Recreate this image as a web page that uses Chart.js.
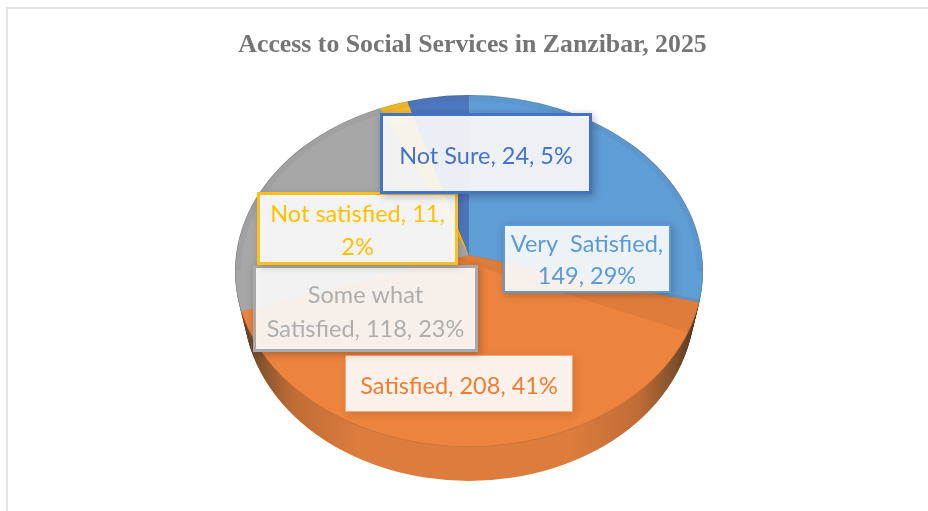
<!DOCTYPE html>
<html lang="en">

<head>
    <meta charset="UTF-8">
    <title>Access to Social Services in Zanzibar, 2025</title>
    <script src="https://cdn.jsdelivr.net/npm/chart.js"></script>
    <style>
        body {
            margin: 0;
            background: #fff;
        }

        #frame {
            position: absolute;
            left: 6px;
            top: 7px;
            width: 922px;
            height: 504px;
            border-top: 2px solid #e3e3e3;
            border-left: 2px solid #e3e3e3;
            box-sizing: border-box;
        }

        canvas {
            position: absolute;
            left: 0;
            top: 0;
        }
    </style>
</head>

<body>
    <div id="frame"></div>
    <canvas id="pie" width="928" height="511"></canvas>

    <script>
        const titleText = 'Access to Social Services in Zanzibar, 2025';
        const categories = ['Very  Satisfied', 'Satisfied', 'Some what Satisfied', 'Not satisfied', 'Not Sure'];
        const responses = [149, 208, 118, 11, 24];
        const percents = [29, 41, 23, 2, 5];

        const sliceColors = ['#5f9dd5', '#ec833e', '#a7a7a7', '#f7bc2a', '#4e78be'];
        const wallColors = ['#4f86b8', null, '#8c8c8c', '#bf9000', '#2f5597'];
        const labelColors = ['#5b9bd5', '#ed7d31', '#aeaeae', '#ffc000', '#4472c4'];

        // label boxes, in draw order
        const boxes = [
            { i: 0, x: 503, y: 224, w: 168, h: 69, border: 2, edge: '#5b9bd5', shadow: 0.25, lines: [`${categories[0]},`, `${responses[0]}, ${percents[0]}%`], ys: [243, 275] },
            { i: 1, x: 345, y: 355, w: 228, h: 57, border: 1, edge: '#f4a878', shadow: 0.12, lines: [`${categories[1]}, ${responses[1]}, ${percents[1]}%`], ys: [385] },
            { i: 2, x: 253, y: 265, w: 225, h: 87, border: 3, edge: '#a9a9a9', shadow: 0.3, lines: ['Some what', `Satisfied, ${responses[2]}, ${percents[2]}%`], ys: [294, 328] },
            { i: 3, x: 257, y: 192, w: 201, h: 73, border: 3, edge: '#fdbf1c', shadow: 0.2, lines: [`${categories[3]}, ${responses[3]},`, `${percents[3]}%`], ys: [213, 246] },
            { i: 4, x: 380, y: 113, w: 212, h: 81, border: 3, edge: '#4472c4', shadow: 0.3, lines: [`${categories[4]}, ${responses[4]}, ${percents[4]}%`], ys: [155] }
        ];

        // the pie is a tilted disc: slices fan out from an apex above the middle of the top face
        const face = { x: 469, y: 271, rx: 234, ry: 176 };
        const apex = { x: 469, y: 255, squash: 0.76 };
        const depth = 34;
        const wallTaper = 0.25;

        function ellipseClip(ctx, dy) {
            ctx.beginPath();
            ctx.ellipse(face.x, face.y + dy, face.rx - dy * wallTaper, face.ry, 0, 0, Math.PI * 2);
            ctx.clip();
        }

        function drawArcs(ctx, arcs, dy) {
            ctx.translate(apex.x, apex.y + dy);
            ctx.scale(1, apex.squash);
            ctx.translate(-arcs[0].x, -arcs[0].y);
            arcs.forEach(arc => arc.draw(ctx));
        }

        const tiltedPie = {
            id: 'tiltedPie',
            beforeDatasetsDraw(chart) {
                const ctx = chart.ctx;
                const arcs = chart.getDatasetMeta(0).data;
                const faceOptions = arcs.map(arc => arc.options);

                // side wall, darker towards the rim
                const wall = ctx.createLinearGradient(face.x - face.rx, 0, face.x + face.rx, 0);
                wall.addColorStop(0, '#4a3020');
                wall.addColorStop(0.05, '#7d4f2c');
                wall.addColorStop(0.13, '#c06c36');
                wall.addColorStop(0.28, '#dd7d3d');
                wall.addColorStop(0.72, '#dd7d3d');
                wall.addColorStop(0.87, '#c06c36');
                wall.addColorStop(0.95, '#7d4f2c');
                wall.addColorStop(1, '#4a3020');
                arcs.forEach((arc, i) => {
                    arc.options = { ...faceOptions[i], backgroundColor: wallColors[i] || wall };
                });
                for (let d = depth; d > 0; d--) {
                    ctx.save();
                    ellipseClip(ctx, d);
                    drawArcs(ctx, arcs, d);
                    ctx.restore();
                }
                arcs.forEach((arc, i) => { arc.options = faceOptions[i]; });

                // top face
                ctx.save();
                ellipseClip(ctx, 0);
                drawArcs(ctx, arcs, 0);
                ctx.restore();

                // darker band on the orange slice, under the blue edge
                ctx.save();
                ellipseClip(ctx, 0);
                ctx.beginPath();
                ctx.moveTo(apex.x, apex.y);
                ctx.lineTo(725, 304);
                ctx.lineTo(725, 344);
                ctx.lineTo(455, 259);
                ctx.closePath();
                ctx.fillStyle = 'rgba(130,70,30,0.11)';
                ctx.fill();
                ctx.restore();

                // soft rim on the upper half, thin line all round
                ctx.save();
                ellipseClip(ctx, 0);
                ctx.beginPath();
                ctx.ellipse(face.x, face.y, face.rx, face.ry, 0, Math.PI, Math.PI * 2);
                ctx.lineWidth = 12;
                ctx.strokeStyle = 'rgba(40,60,90,0.05)';
                ctx.stroke();
                ctx.beginPath();
                ctx.ellipse(face.x, face.y, face.rx, face.ry, 0, 0, Math.PI * 2);
                ctx.lineWidth = 1.5;
                ctx.strokeStyle = 'rgba(90,60,40,0.25)';
                ctx.stroke();
                ctx.restore();
                return false;
            },
            afterDraw(chart) {
                const ctx = chart.ctx;
                boxes.forEach(b => {
                    ctx.save();
                    ctx.shadowColor = `rgba(0,0,0,${b.shadow})`;
                    ctx.shadowBlur = 8;
                    ctx.shadowOffsetX = 2;
                    ctx.shadowOffsetY = 2;
                    ctx.fillStyle = 'rgba(255,255,255,0.9)';
                    ctx.fillRect(b.x, b.y, b.w, b.h);
                    ctx.restore();

                    ctx.strokeStyle = b.edge;
                    ctx.lineWidth = b.border;
                    ctx.strokeRect(b.x + b.border / 2, b.y + b.border / 2, b.w - b.border, b.h - b.border);

                    ctx.fillStyle = labelColors[b.i];
                    ctx.font = '23.5px Lato';
                    ctx.textAlign = 'center';
                    ctx.textBaseline = 'middle';
                    b.lines.forEach((line, k) => {
                        ctx.fillText(line, b.x + b.w / 2, b.ys[k] + 1.5);
                    });
                });
            }
        };

        new Chart(document.getElementById('pie'), {
            type: 'pie',
            data: {
                labels: categories,
                datasets: [{
                    data: responses,
                    backgroundColor: sliceColors,
                    borderWidth: 0
                }]
            },
            options: {
                responsive: false,
                animation: false,
                radius: 270,
                layout: { padding: { left: 17, right: 0, top: 0, bottom: 0 } },
                plugins: {
                    legend: { display: false },
                    tooltip: { enabled: false },
                    title: {
                        display: true,
                        text: titleText,
                        color: '#757575',
                        font: { family: 'Liberation Serif', size: 25.8, weight: 'bold' },
                        padding: { top: 30, bottom: 10 }
                    }
                }
            },
            plugins: [tiltedPie]
        });
    </script>
</body>

</html>
